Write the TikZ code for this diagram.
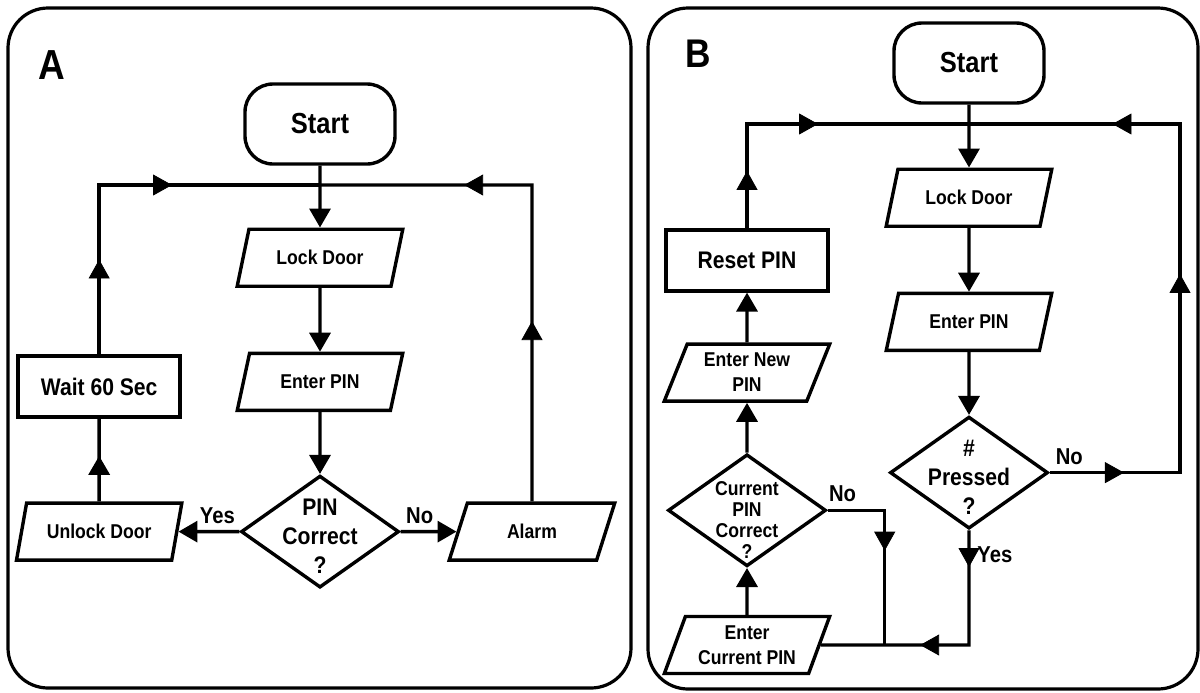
\documentclass[tikz,border=0pt]{standalone}
\usepackage{fontspec}
\setmainfont{Liberation Sans}[FakeStretch=0.88]
\usepackage{tikz}
\usetikzlibrary{shapes.geometric, positioning, arrows.meta, decorations.markings}
\tikzset{
wire/.style={line width=1.7pt}, % plain line between boxes
flow/.style={wire, -{Triangle[length=9.5pt,width=10.5pt]}}, % line ending in a filled head
arrowat/.style={decoration={markings, mark=at position #1 with {\arrow{Triangle[length=9.5pt,width=10.5pt]}}}, postaction={decorate}}, % head part way along a line
terminal/.style={draw, line width=1.7pt, rounded corners=14pt, minimum width=75pt, minimum height=40pt, font=\bfseries\fontsize{14.5}{16}\selectfont}, % start box
io/.style={draw, line width=1.7pt, trapezium, trapezium left angle=68, trapezium right angle=112, trapezium stretches=true, minimum width=83pt, minimum height=28.5pt, inner sep=1pt, align=center, font=\bfseries\fontsize{10}{12.5}\selectfont}, % input / output
process/.style={draw, line width=1.7pt, minimum width=81pt, minimum height=30.5pt, font=\bfseries\fontsize{12}{14}\selectfont}, % plain step
decision/.style={draw, line width=1.7pt, diamond, minimum width=79pt, minimum height=56pt, inner sep=0pt}, % question
ask/.style={align=center, font=\bfseries\fontsize{12}{14.5}\selectfont}, % text in a question
tag/.style={font=\bfseries\fontsize{11.5}{13}\selectfont}, % yes / no
panel/.style={line width=1.6pt, rounded corners=20pt}, % frame round each chart
}
\begin{document}
\begin{tikzpicture}[x=0.5pt, y=-0.5pt]
        \useasboundingbox (0,0) rectangle (1200,692);
        \draw[panel] (8,8) rectangle (631,688);
        \draw[panel] (648,8) rectangle (1198,689);

        % chart A
        \node[font=\bfseries\fontsize{21}{24}\selectfont] (labA) at (51.5,65) {A};
        \node[terminal] (startA) at (320,124) {Start};
        \node[io, below=30.9pt of startA] (lockA) {Lock Door};
        \node[io, below=31.9pt of lockA] (pinA) {Enter PIN};
        \node[decision, below=30.9pt of pinA, label={[ask, yshift=-2.5pt]center:PIN\\Correct\\?}] (decA) {};
        \node[io, left=30.4pt of decA] (unlockA) {Unlock Door};
        \node[io, right=27.9pt of decA] (alarmA) {Alarm};
        \node[process, above=41.4pt of unlockA] (waitA) {Wait 60 Sec};
        \coordinate (mA) at (320,185);
        \coordinate (jA1) at (waitA |- mA);
        \coordinate (jA2) at (alarmA |- mA);

        \draw[flow] (startA) -- (lockA);
        \draw[flow] (lockA) -- (pinA);
        \draw[flow] (pinA) -- (decA);
        \draw[flow] (decA) -- node[tag, above, pos=0.36] {Yes} (unlockA);
        \draw[flow] (decA) -- node[tag, above, pos=0.34] {No} (alarmA);
        \draw[wire, arrowat=0.55] (unlockA) -- (waitA);
        \draw[wire] (waitA) -- (jA1) -- (mA);
        \draw[wire] (alarmA) -- (jA2) -- (mA);
        \path[arrowat=0.56] (waitA.north) -- (jA1);
        \path[arrowat=0.33] (jA1) -- (mA);
        \path[arrowat=0.57] (alarmA.north) -- (jA2);
        \path[arrowat=0.32] (jA2) -- (mA);

        % chart B
        \node[font=\bfseries\fontsize{20}{24}\selectfont] (labB) at (698.5,54) {B};
        \node[terminal] (startB) at (969,63) {Start};
        \node[io, below=31.4pt of startB] (lockB) {Lock Door};
        \node[io, below=31.9pt of lockB] (pinB) {Enter PIN};
        \node[decision, below=31.4pt of pinB, label={[ask, yshift=-2.25pt]center:\#\\Pressed\\?}] (decB) {};
        \node[io] (curB) at (747,645) {Enter\\Current PIN};
        \node[decision, above=23.4pt of curB, label={[ask, font=\bfseries\fontsize{10}{10.5}\selectfont, yshift=-4.75pt]center:Current\\PIN\\Correct\\?}] (chkB) {};
        \node[io, above=24.9pt of chkB] (newB) {Enter New\\PIN};
        \node[process, above=24.9pt of newB] (resetB) {Reset PIN};
        \coordinate (mB) at (969,124);
        \coordinate (jB1) at (resetB |- mB);
        \coordinate (jB3) at (1180,124);
        \coordinate (jB2) at (jB3 |- decB);
        \coordinate (jB4) at (decB |- curB);
        \coordinate (jB5) at ([xshift=28.5pt]chkB.east);
        \coordinate (jB6) at (jB5 |- curB);

        \draw[flow] (startB) -- (lockB);
        \draw[flow] (lockB) -- (pinB);
        \draw[flow] (pinB) -- (decB);
        \draw[wire] (decB) -- node[tag, above, pos=0.15] {No} (jB2) -- (jB3) -- (mB);
        \path[arrowat=0.57] (decB.east) -- (jB2);
        \path[arrowat=0.57] (jB2) -- (jB3);
        \path[arrowat=0.32] (jB3) -- (mB);
        \draw[wire] (decB) -- node[tag, right, pos=0.21] {Yes} (jB4) -- (curB);
        \path[arrowat=0.32] (decB.south) -- (jB4);
        \path[arrowat=0.33] (jB4) -- (curB.east);
        \draw[flow] (curB) -- (chkB);
        \draw[flow] (chkB) -- (newB);
        \draw[flow] (newB) -- (resetB);
        \draw[wire] (resetB) -- (jB1) -- (mB);
        \path[arrowat=0.55] (resetB.north) -- (jB1);
        \path[arrowat=0.32] (jB1) -- (mB);
        \draw[wire] (chkB.east) -- node[tag, above, pos=0.26] {No} (jB5) -- (jB6);
        \path[arrowat=0.30] (jB5) -- (jB6);
    \end{tikzpicture}
\end{document}
